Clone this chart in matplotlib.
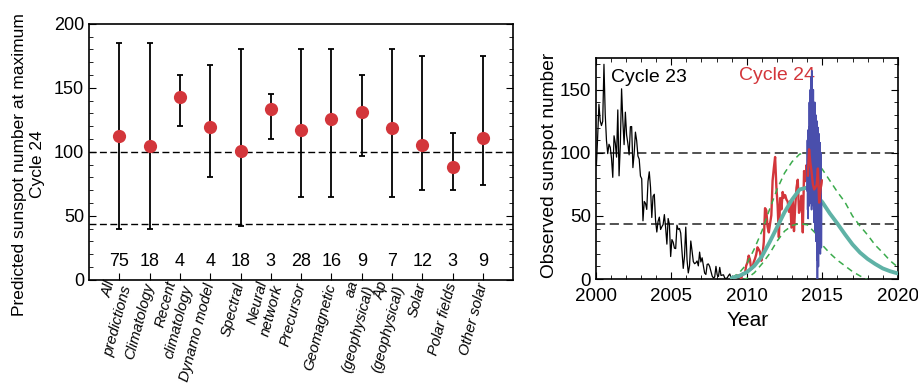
import numpy as np
import matplotlib
matplotlib.use("Agg")
import matplotlib.pyplot as plt
from matplotlib.ticker import MultipleLocator

plt.rcParams['font.family'] = ['Liberation Sans', 'DejaVu Sans']

# ---- left panel: predictions of cycle 24 maximum ----
categories = ["All\npredictions", "Climatology", "Recent\nclimatology", "Dynamo model",
              "Spectral", "Neural\nnetwork", "Precursor", "Geomagnetic",
              "aa\n(geophysical)", "Ap\n(geophysical)", "Solar", "Polar fields", "Other solar"]
pred_mean = [112.5, 104.5, 142.5, 119.5, 101, 133.5, 117, 126, 131.5, 118.5, 105.5, 88.5, 111]
pred_high = [185, 185, 160, 168, 180, 145, 180, 180, 160, 180, 175, 115, 175]
pred_low = [40, 40, 120, 80, 42, 110, 65, 65, 97, 65, 70, 70, 74]
n_pred = [75, 18, 4, 4, 18, 3, 28, 16, 9, 7, 12, 3, 9]
ref_levels = [100, 44]

# ---- right panel: observed sunspot number ----
# monthly means, cycle 23 (2000-01 .. 2008-12)
ssn_c23 = [90.1, 112.9, 138.5, 125.5, 121.6, 124.9, 170.1, 130.5, 109.7, 99.4, 106.8, 104.4,
           95.6, 80.6, 113.5, 107.7, 96.6, 134.0, 81.8, 106.4, 150.7, 125.5, 106.5, 132.2,
           114.1, 107.4, 98.4, 120.7, 120.8, 88.3, 99.6, 116.4, 109.6, 97.5, 95.0, 81.6,
           79.5, 46.2, 61.5, 60.0, 55.2, 77.4, 85.0, 72.7, 48.8, 65.6, 67.2, 46.5,
           37.3, 45.8, 49.1, 39.3, 41.5, 43.2, 51.1, 40.9, 27.7, 48.0, 43.5, 17.9,
           31.3, 29.2, 24.5, 24.2, 42.7, 39.3, 40.1, 36.4, 22.1, 8.5, 18.0, 41.2,
           15.3, 4.9, 10.6, 30.2, 22.3, 13.9, 12.2, 12.9, 14.4, 10.5, 21.4, 13.6,
           16.9, 10.6, 4.8, 3.7, 11.7, 12.0, 10.0, 6.2, 2.4, 0.9, 1.7, 10.1,
           3.3, 2.1, 9.3, 2.9, 3.2, 3.4, 0.8, 0.5, 1.1, 2.9, 4.1, 0.8]
# monthly means, cycle 24 (2009-01 .. 2014-12)
ssn_c24 = [1.5, 1.4, 0.7, 1.2, 2.9, 2.9, 3.2, 0.0, 4.2, 4.6, 4.2, 10.6,
           13.1, 18.6, 15.4, 7.9, 8.8, 13.5, 16.1, 19.6, 25.2, 23.5, 21.6, 14.5,
           19.0, 29.4, 56.2, 54.4, 41.6, 37.0, 43.9, 50.6, 78.0, 88.0, 96.7, 73.0,
           58.3, 33.1, 64.2, 55.2, 69.0, 64.5, 66.5, 63.0, 61.4, 53.3, 61.8, 40.8,
           62.9, 38.0, 57.9, 72.4, 78.7, 52.5, 57.0, 66.0, 37.0, 85.6, 77.6, 90.3,
           82.0, 102.8, 92.2, 84.7, 75.2, 71.0, 72.4, 74.6, 87.6, 60.6, 70.1, 78.0]
# high-resolution values during 2014
ssn_2014 = [70, 110, 55, 118, 48, 95, 62, 120, 58, 140, 66, 125, 75, 150,
            60, 160, 80, 130, 55, 165, 90, 145, 62, 120, 70, 150, 58, 135,
            45, 125, 60, 140, 38, 110, 50, 130, 30, 118, 42, 100, 15, 125,
            0, 95, 25, 120, 10, 105, 30, 115, 22, 90, 40, 108, 20, 85, 35, 100, 25, 60]
# predicted cycle 24 curve (mean and range), every half year 2009-2020
fit_years = [2009.0, 2009.5, 2010.0, 2010.5, 2011.0, 2011.5, 2012.0, 2012.5, 2013.0, 2013.5,
             2014.0, 2014.5, 2015.0, 2015.5, 2016.0, 2016.5, 2017.0, 2017.5, 2018.0, 2018.5,
             2019.0, 2019.5, 2020.0]
fit_mean = [1, 2.5, 5.5, 10.5, 18, 29, 41, 53, 63, 71,
            72.5, 67.5, 61, 52, 44, 35.5, 27.5, 21, 16, 12, 8.5, 6.2, 4.5]
fit_high = [1, 5, 12, 24, 38, 55, 71, 84, 93, 99,
            99.5, 94, 87, 78, 69, 61, 50, 42, 35, 27, 21, 14.5, 9.5]
fit_low = [0, -1, 0.5, 5, 12, 20, 30, 38, 42.5, 44,
           43, 37, 27, 20.5, 15, 10.5, 6, 2.5, -0.5, -3, -5, -7, -9]

red = '#d3363b'
fig = plt.figure(figsize=(9.18, 3.85), dpi=100)

# left panel
ax = fig.add_axes([0.097, 0.273, 0.462, 0.665])
x = np.arange(1, len(categories) + 1)
mean = np.array(pred_mean)
ax.errorbar(x, mean, yerr=[mean - np.array(pred_low), np.array(pred_high) - mean],
            fmt='none', ecolor='black', elinewidth=1.3, capsize=2.5, capthick=1.3, zorder=2)
ax.plot(x, mean, 'o', color=red, markersize=9.5, markeredgewidth=0, zorder=3)
for lev in ref_levels:
    ax.axhline(lev, color='black', lw=1.0, dashes=(5, 2.5), zorder=1)
for xi, n in zip(x, n_pred):
    ax.text(xi, 14, str(n), ha='center', va='center', fontsize=13)
ax.set_xlim(0, len(categories) + 1)
ax.set_ylim(0, 200)
ax.set_xticks(x)
ax.set_xticklabels(categories, rotation=75, ha='right', va='center', rotation_mode='anchor',
                   fontsize=10.8, fontstyle='italic', multialignment='right')
ax.yaxis.set_major_locator(MultipleLocator(50))
ax.yaxis.set_minor_locator(MultipleLocator(10))
ax.tick_params(axis='y', which='both', direction='in', left=True, right=True, labelsize=13)
ax.tick_params(axis='y', which='major', length=5)
ax.tick_params(axis='y', which='minor', length=3)
ax.tick_params(axis='x', direction='in', length=5, pad=2.5, top=False)
ax.set_ylabel("Predicted sunspot number at maximum\nCycle 24", fontsize=12.5)
ax.yaxis.set_label_coords(-0.105, 0.45)
for s in ax.spines.values():
    s.set_linewidth(1.2)

# right panel
ax2 = fig.add_axes([0.649, 0.275, 0.329, 0.574])
t23 = 2000 + (np.arange(len(ssn_c23)) + 0.5) / 12
t24 = 2009 + (np.arange(len(ssn_c24)) + 0.5) / 12
t14 = np.linspace(2014.0, 2014.95, len(ssn_2014))
for lev in ref_levels:
    ax2.axhline(lev, color='#222222', lw=1.1, dashes=(6, 3), zorder=1)
ax2.plot(t23, ssn_c23, color='black', lw=0.9, zorder=2)
ax2.plot(t24, ssn_c24, color=red, lw=1.7, zorder=3)
ax2.plot(fit_years, fit_high, color='#3bab4c', lw=1.1, dashes=(4, 3), zorder=4)
ax2.plot(fit_years, fit_low, color='#3bab4c', lw=1.1, dashes=(4, 3), zorder=4)
ax2.plot(fit_years, fit_mean, color='#5fb2a6', lw=2.8, zorder=4, solid_capstyle='round')
ax2.plot(t14, ssn_2014, color='#4a4fac', lw=1.2, zorder=5)
late = t24 >= 2014.0
ax2.plot(t24[late], np.array(ssn_c24)[late], color=red, lw=1.7, zorder=6)
ax2.text(2001.0, 160, "Cycle 23", color='black', fontsize=14, ha='left', va='center')
ax2.text(2009.5, 161, "Cycle 24", color=red, fontsize=14, ha='left', va='center')
ax2.set_xlim(2000, 2020)
ax2.set_ylim(0, 175)
ax2.xaxis.set_major_locator(MultipleLocator(5))
ax2.xaxis.set_minor_locator(MultipleLocator(1))
ax2.yaxis.set_major_locator(MultipleLocator(50))
ax2.yaxis.set_minor_locator(MultipleLocator(10))
ax2.tick_params(which='both', direction='in', top=True, right=True, labelsize=13.5)
ax2.tick_params(axis='x', pad=6.5)
ax2.tick_params(which='major', length=5)
ax2.tick_params(which='minor', length=3)
ax2.set_xlabel("Year", fontsize=15)
ax2.set_ylabel("Observed sunspot number", fontsize=13.8)
ax2.xaxis.set_label_coords(0.504, -0.145)
ax2.yaxis.set_label_coords(-0.126, 0.516)
for s in ax2.spines.values():
    s.set_linewidth(1.2)

fig.savefig("out.png", dpi=100)
